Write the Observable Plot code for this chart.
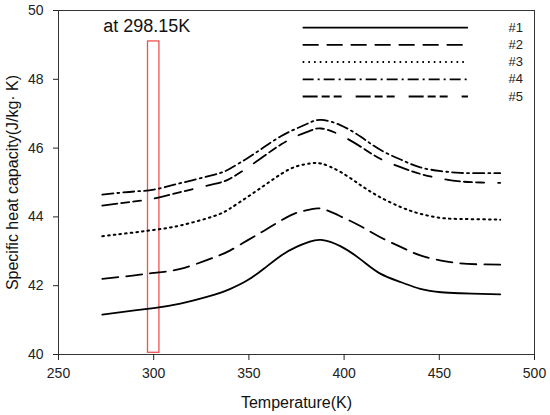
<!DOCTYPE html>
<html>
<head>
<meta charset="utf-8">
<script src="https://cdn.jsdelivr.net/npm/d3@7"></script>
<script src="https://cdn.jsdelivr.net/npm/@observablehq/plot@0.6"></script>
<style>
  body { margin: 0; background: #fff; }
  svg { font-family: Arial, "Liberation Sans", sans-serif; }
</style>
</head>
<body>
<div id="chart"></div>
<script>
const temps = [273,290,300,314,332,340,349,358,367,375,382,388,398,409,419,430,440,451,461,472,482];
const s1 = [41.16,41.28,41.35,41.48,41.74,41.90,42.15,42.50,42.88,43.13,43.28,43.33,43.15,42.75,42.35,42.10,41.91,41.81,41.78,41.76,41.75];
const s2 = [42.20,42.30,42.37,42.49,42.83,43.02,43.31,43.60,43.90,44.12,44.21,44.24,44.02,43.72,43.41,43.12,42.88,42.73,42.65,42.62,42.61];
const s3 = [43.44,43.55,43.62,43.75,44.03,44.24,44.57,44.91,45.25,45.47,45.55,45.55,45.31,44.91,44.57,44.28,44.09,43.97,43.94,43.93,43.92];
const s4 = [44.65,44.74,44.79,44.98,45.23,45.40,45.70,46.03,46.35,46.57,46.74,46.82,46.67,46.32,45.95,45.66,45.44,45.33,45.28,45.27,45.27];
const s5 = [44.33,44.45,44.53,44.72,44.96,45.11,45.42,45.77,46.11,46.35,46.50,46.57,46.38,46.03,45.69,45.44,45.25,45.11,45.03,45.00,44.99];
const seriesNames = ["#1","#2","#3","#4","#5"];
const seriesValues = [s1, s2, s3, s4, s5];
const xTicks = [250,300,350,400,450,500];
const yTicks = [40,42,44,46,48,50];
const highlightT = [297, 303];
const highlightV = [40.05, 49.1];
const annotation = "at 298.15K";
const xTitle = "Temperature(K)";
const yTitle = "Specific heat capacity(J/kg· K)";

const dashes = ["none", "16,8", "1.6,4.1", "11,4,2,4", "15,4,8,4,8,14"];
const widths = [1.8, 1.8, 2, 1.8, 1.8];
// legend placement in data units
const legX1 = 378.5, legX2 = 465.3, legTextX = 486.3;
const legY = seriesNames.map((_, i) => 49.5 - 0.5 * i);

const marks = [];
marks.push(Plot.rect([{}], {x1: highlightT[0], x2: highlightT[1], y1: highlightV[0], y2: highlightV[1], fill: "none", stroke: "#f05050", strokeWidth: 1.3}));
seriesValues.forEach((vals, k) => {
  const data = temps.map((t, i) => ({t, v: vals[i]}));
  marks.push(Plot.line(data, {x: "t", y: "v", curve: "natural", stroke: "#000", strokeWidth: widths[k], strokeDasharray: dashes[k]}));
  marks.push(Plot.ruleY([legY[k]], {x1: legX1, x2: legX2, stroke: "#000", strokeWidth: widths[k], strokeDasharray: dashes[k]}));
});
marks.push(Plot.text(seriesNames, {x: legTextX, y: (d, i) => legY[i], text: d => d, textAnchor: "start", fontSize: 13, fill: "#222"}));
marks.push(Plot.text([annotation], {x: 273.5, y: 49.55, text: d => d, textAnchor: "start", fontSize: 18, fill: "#111"}));
marks.push(Plot.frame({stroke: "#333", strokeWidth: 1}));
marks.push(Plot.axisX({ticks: xTicks, tickSize: 6, tickPadding: 8, fontSize: 14, color: "#222", label: null}));
marks.push(Plot.axisY({ticks: yTicks, tickSize: 5, tickPadding: 10, fontSize: 14, color: "#222", label: null}));
marks.push(Plot.text([xTitle], {frameAnchor: "bottom", dy: 48, textAnchor: "middle", lineAnchor: "middle", text: d => d, fontSize: 16, fill: "#111"}));
marks.push(Plot.text([yTitle], {frameAnchor: "left", dx: -46, rotate: -90, textAnchor: "middle", lineAnchor: "middle", text: d => d, fontSize: 16, fill: "#111"}));

const chart = Plot.plot({
  width: 550,
  height: 415,
  marginLeft: 58,
  marginRight: 16,
  marginTop: 10,
  marginBottom: 61,
  x: {domain: [250, 500]},
  y: {domain: [40, 50]},
  style: {fontFamily: "Arial, 'Liberation Sans', sans-serif", background: "#fff", overflow: "visible"},
  marks
});
document.getElementById("chart").appendChild(chart);
</script>
</body>
</html>
